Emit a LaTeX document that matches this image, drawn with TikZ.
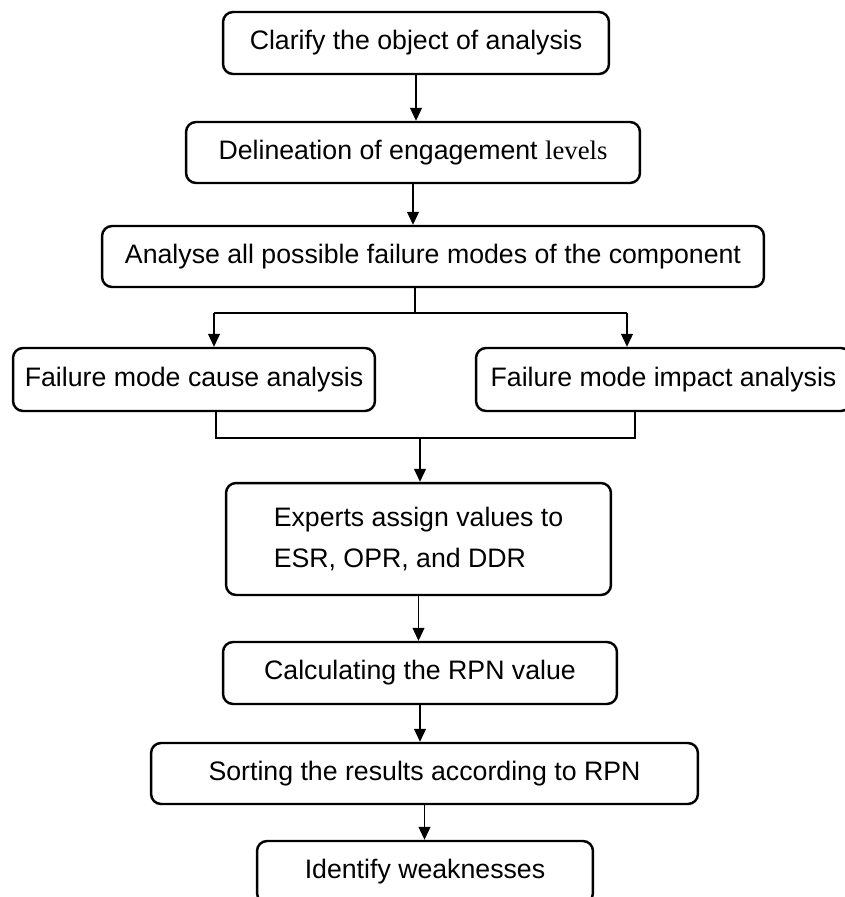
\documentclass[tikz,border=0pt]{standalone}
\usepackage{fontspec}
\setmainfont{Liberation Sans}
\newfontfamily\levelfont{Liberation Serif}
\usetikzlibrary{arrows.meta, positioning}

\begin{document}
\begin{tikzpicture}[
  x=0.02cm, y=-0.02cm,
  stepbox/.style={rectangle, draw=black, line width=1.4pt, rounded corners=0.2cm,
                  inner sep=0pt, align=center, font=\fontsize{15.2}{22.8}\selectfont},
  arr/.style={draw=black, line width=0.6pt, -{Triangle[length=0.26cm, width=0.24cm]}},
  linkline/.style={draw=black, line width=1.2pt},
]
\useasboundingbox (0,0) rectangle (845,897);
\clip (0,0) rectangle (845,897);
% main chain of steps
\node[stepbox, minimum width=7.72cm, minimum height=1.24cm] (clarify) at (416,43) {Clarify the object of analysis};
\node[stepbox, minimum width=9.08cm, minimum height=1.22cm] (levels) at (413,152.5) {Delineation of engagement {\levelfont levels}};
\node[stepbox, minimum width=13.24cm, minimum height=1.22cm] (modes) at (433,256.5) {Analyse all possible failure modes of the component};
% parallel analyses
\node[stepbox, minimum width=7.24cm, minimum height=1.26cm] (cause) at (194,379.5) {Failure mode cause analysis};
\node[stepbox, minimum width=7.5cm, minimum height=1.26cm] (impact) at (663.5,379.5) {Failure mode impact analysis};
% scoring and ranking
\node[stepbox, minimum width=7.7cm, minimum height=2.24cm, align=left] (experts) at (418.5,539) {Experts assign values to\\ESR, OPR, and DDR};
\node[stepbox, minimum width=7.88cm, minimum height=1.24cm] (rpn) at (420,673) {Calculating the RPN value};
\node[stepbox, minimum width=10.94cm, minimum height=1.22cm] (sorting) at (424.5,773.5) {Sorting the results according to RPN};
\node[stepbox, minimum width=6.72cm, minimum height=1.24cm] (weak) at (425,872) {Identify weaknesses};
% split / merge points
\coordinate (split) at (415,313);
\coordinate (splitl) at (214,313);
\coordinate (splitr) at (627,313);
\coordinate (mergel) at (216,438);
\coordinate (merger) at (635,438);
\coordinate (merge) at (420,437);
% arrows
\draw[arr] (clarify.south) -- (clarify.south |- levels.north);
\draw[arr] (levels.south) -- (levels.south |- modes.north);
\draw[linkline] (split |- modes.south) -- (split);
\draw[linkline] (splitl) -- (splitr);
\draw[arr] (splitl) -- (splitl |- cause.north);
\draw[arr] (splitr) -- (splitr |- impact.north);
\draw[linkline] (mergel |- cause.south) -- (mergel) -- (merger) -- (merger |- impact.south);
\draw[arr] (merge) -- (merge |- experts.north);
\draw[arr] (experts.south) -- (experts.south |- rpn.north);
\draw[arr] (rpn.south) -- (rpn.south |- sorting.north);
\draw[arr] (sorting.south) -- (sorting.south |- weak.north);
\end{tikzpicture}
\end{document}
